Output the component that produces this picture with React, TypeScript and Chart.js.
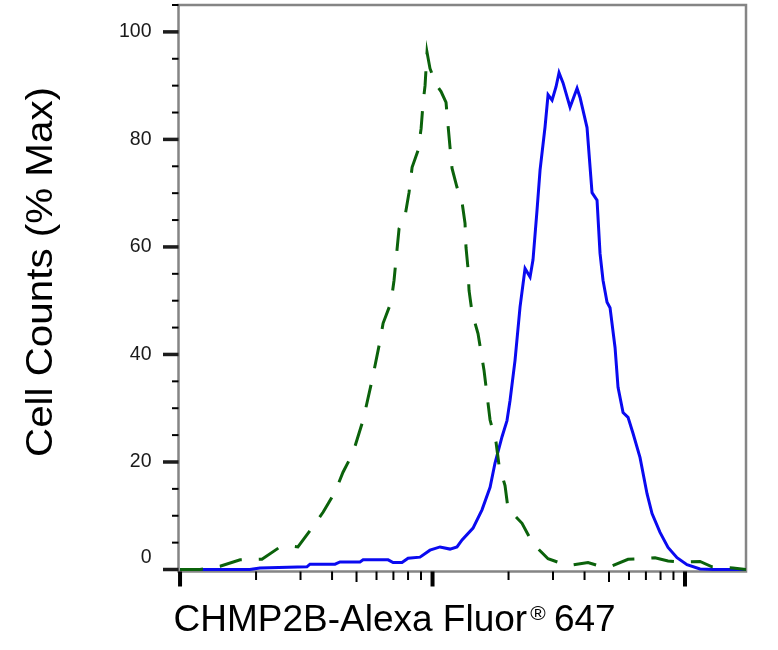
import { useEffect, useRef } from 'react';
import { Chart, registerables } from 'chart.js';

Chart.register(...registerables);

// ---- data ----
const xMajorTicks = [100, 1000, 10000];
const xMinorTicks = [200, 300, 400, 500, 600, 700, 800, 900, 2000, 3000, 4000, 5000, 6000, 7000, 8000, 9000];
const yMajorTicks = [0, 20, 40, 60, 80, 100];
const yMinorTicks = [5, 10, 15, 25, 30, 35, 45, 50, 55, 65, 70, 75, 85, 90, 95, 105];

const blueX = [100, 138, 189, 207, 318, 327, 411, 430, 516, 531, 667, 698, 757, 800, 892, 977, 1071, 1173, 1250, 1309, 1447, 1570, 1690, 1768, 1885, 1972, 2027, 2122, 2221, 2325, 2434, 2500, 2594, 2666, 2790, 2868, 2975, 3085, 3170, 3288, 3505, 3736, 3839, 4092, 4283, 4483, 4607, 4734, 4911, 5047, 5283, 5429, 5683, 5948, 6227, 6636, 7072, 7403, 7962, 8566, 9297, 10184, 11466, 12910, 17600];
const blueY = [0, 0, 0, 0.3, 0.5, 1.0, 1.0, 1.4, 1.4, 1.8, 1.8, 1.3, 1.3, 2.1, 2.3, 3.6, 4.2, 3.8, 4.2, 5.5, 7.7, 11.1, 15.3, 19.8, 24.7, 27.7, 31.4, 38.9, 48.8, 56.0, 54.4, 57.6, 66.9, 74.3, 82.3, 88.3, 87.3, 89.8, 92.4, 90.5, 86.0, 89.5, 87.8, 82.2, 70.1, 68.7, 58.8, 53.8, 49.7, 48.7, 41.3, 33.9, 29.2, 28.3, 25.3, 20.8, 14.1, 10.4, 6.9, 4.1, 2.2, 0.9, 0.1, 0, 0];

const greenX = [100, 110, 120, 144, 173, 211, 249, 270, 293, 333, 369, 411, 442, 484, 531, 576, 620, 637, 685, 704, 724, 737, 778, 807, 830, 877, 901, 917, 934, 951, 977, 1033, 1081, 1131, 1152, 1173, 1195, 1250, 1309, 1345, 1357, 1382, 1395, 1434, 1514, 1600, 1690, 1784, 1834, 1937, 1991, 2262, 2500, 2868, 3441, 4129, 4607, 5047, 5948, 6636, 7607, 8566, 9555, 11466, 12793, 15488, 17600];
const greenY = [0, 0, 0, 0.6, 1.8, 1.9, 4.2, 4.4, 4.2, 7.7, 10.7, 14.4, 18.1, 21.7, 27.8, 35.2, 42.6, 45.8, 49.7, 53.8, 59.7, 63.4, 65.7, 70.1, 74.8, 78.0, 82.0, 86.7, 90.0, 96.2, 93.2, 90.2, 88.9, 86.9, 82.6, 78.5, 74.6, 71.1, 68.3, 64.4, 59.9, 56.0, 51.9, 47.8, 43.9, 37.0, 27.8, 23.7, 19.4, 15.6, 11.3, 8.6, 4.8, 2.0, 0.7, 1.3, 0.6, 0.5, 1.9, 2.0, 2.2, 1.6, 1.4, 1.5, 0.5, 0.3, 0];

const xTitleMain = 'CHMP2B-Alexa Fluor';
const xTitleMark = '®';
const xTitleTail = ' 647';
const yTitle = 'Cell Counts (% Max)';

const FONT = '"Liberation Sans", Arial, Helvetica, sans-serif';

const decorPlugin = {
  id: 'decor',
  beforeDatasetsDraw(chart: any) {
    const { ctx, chartArea: a } = chart;
    ctx.save();
    ctx.strokeStyle = '#858585';
    ctx.lineWidth = 2.5;
    ctx.strokeRect(a.left, a.top, a.right - a.left, a.bottom - a.top);
    ctx.restore();
  },
  afterDraw(chart: any) {
    const { ctx, chartArea: a, scales } = chart;
    const xs = scales.x;
    const ys = scales.y;
    const seg = (x1: number, y1: number, x2: number, y2: number) => {
      ctx.beginPath();
      ctx.moveTo(x1, y1);
      ctx.lineTo(x2, y2);
      ctx.stroke();
    };
    ctx.save();
    ctx.lineCap = 'butt';
    // x ticks
    ctx.strokeStyle = '#000';
    ctx.lineWidth = 4;
    xMajorTicks.forEach((v) => {
      const p = xs.getPixelForValue(v);
      seg(p, a.bottom, p, a.bottom + 15);
    });
    ctx.lineWidth = 2;
    xMinorTicks.forEach((v) => {
      const p = xs.getPixelForValue(v);
      const first = String(v)[0];
      seg(p, a.bottom, p, a.bottom + (first === '5' ? 10.5 : 8.5));
    });
    // y ticks
    ctx.strokeStyle = '#1c1c1c';
    ctx.lineWidth = 3.5;
    yMajorTicks.forEach((v) => {
      const p = ys.getPixelForValue(v);
      seg(a.left - 15.5, p, a.left, p);
    });
    ctx.strokeStyle = '#000';
    ctx.lineWidth = 2;
    yMinorTicks.forEach((v) => {
      const p = ys.getPixelForValue(v);
      seg(a.left - 6.5, p, a.left, p);
    });

    // x title
    ctx.fillStyle = '#000';
    ctx.textBaseline = 'alphabetic';
    ctx.textAlign = 'left';
    ctx.font = `37px ${FONT}`;
    const bx = a.left - 5;
    const by = 631;
    ctx.fillText(xTitleMain, bx, by);
    const w1 = ctx.measureText(xTitleMain).width;
    ctx.font = `21px ${FONT}`;
    const rx = bx + w1 + 3;
    ctx.fillText(xTitleMark, rx, by - 11);
    const w2 = ctx.measureText(xTitleMark).width;
    ctx.font = `37px ${FONT}`;
    ctx.fillText(xTitleTail, rx + w2 - 2, by);

    // y title (slightly stretched along its length, as in the reference)
    ctx.font = `37px ${FONT}`;
    const wy = ctx.measureText(yTitle).width;
    const sx = 370 / wy;
    ctx.translate(51.5, 457);
    ctx.rotate(-Math.PI / 2);
    ctx.scale(sx, 1);
    ctx.fillText(yTitle, 0, 0);
    ctx.restore();
  },
};

export default function App() {
  const ref = useRef<HTMLCanvasElement | null>(null);

  useEffect(() => {
    if (!ref.current) return;
    const chart = new Chart(ref.current, {
      type: 'line',
      data: {
        datasets: [
          {
            label: 'Control',
            data: greenX.map((x, i) => ({ x, y: greenY[i] })),
            borderColor: '#0b620b',
            borderWidth: 3,
            borderDash: [23, 17],
            pointRadius: 0,
            tension: 0,
            fill: false,
          },
          {
            label: 'CHMP2B',
            data: blueX.map((x, i) => ({ x, y: blueY[i] })),
            borderColor: '#0a0af0',
            borderWidth: 3,
            pointRadius: 0,
            tension: 0,
            fill: false,
          },
        ],
      },
      options: {
        responsive: false,
        animation: false,
        devicePixelRatio: 1,
        layout: { padding: { top: 5, right: 32, left: 0, bottom: 0 } },
        plugins: {
          legend: { display: false },
          tooltip: { enabled: false },
        },
        scales: {
          x: {
            type: 'logarithmic',
            min: 98.6,
            max: 17440,
            grid: { display: false },
            border: { display: false },
            ticks: { display: false },
            afterFit: (s: any) => {
              s.height = 78.5;
              s.paddingLeft = 0;
              s.paddingRight = 0;
              s.paddingTop = 0;
              s.paddingBottom = 0;
            },
          },
          y: {
            type: 'linear',
            min: -0.37,
            max: 105,
            grid: { display: false, drawTicks: false },
            border: { display: false },
            afterBuildTicks: (s: any) => {
              s.ticks = yMajorTicks.map((v) => ({ value: v }));
            },
            ticks: {
              color: '#1a1a1a',
              padding: 27,
              font: { family: FONT, size: 19.5 },
              callback: (v: any) => (Number(v) === 0 ? ['0', ''] : String(v)),
            },
            afterFit: (s: any) => {
              s.width = 178.5;
              s.paddingTop = 0;
              s.paddingBottom = 0;
              s.paddingLeft = 0;
              s.paddingRight = 0;
            },
          },
        },
      },
      plugins: [decorPlugin],
    });
    return () => chart.destroy();
  }, []);

  return (
    <div style={{ position: 'absolute', left: 0, top: 0, width: 778, height: 650, background: '#fff' }}>
      <canvas ref={ref} width={778} height={650} style={{ display: 'block' }} />
    </div>
  );
}
